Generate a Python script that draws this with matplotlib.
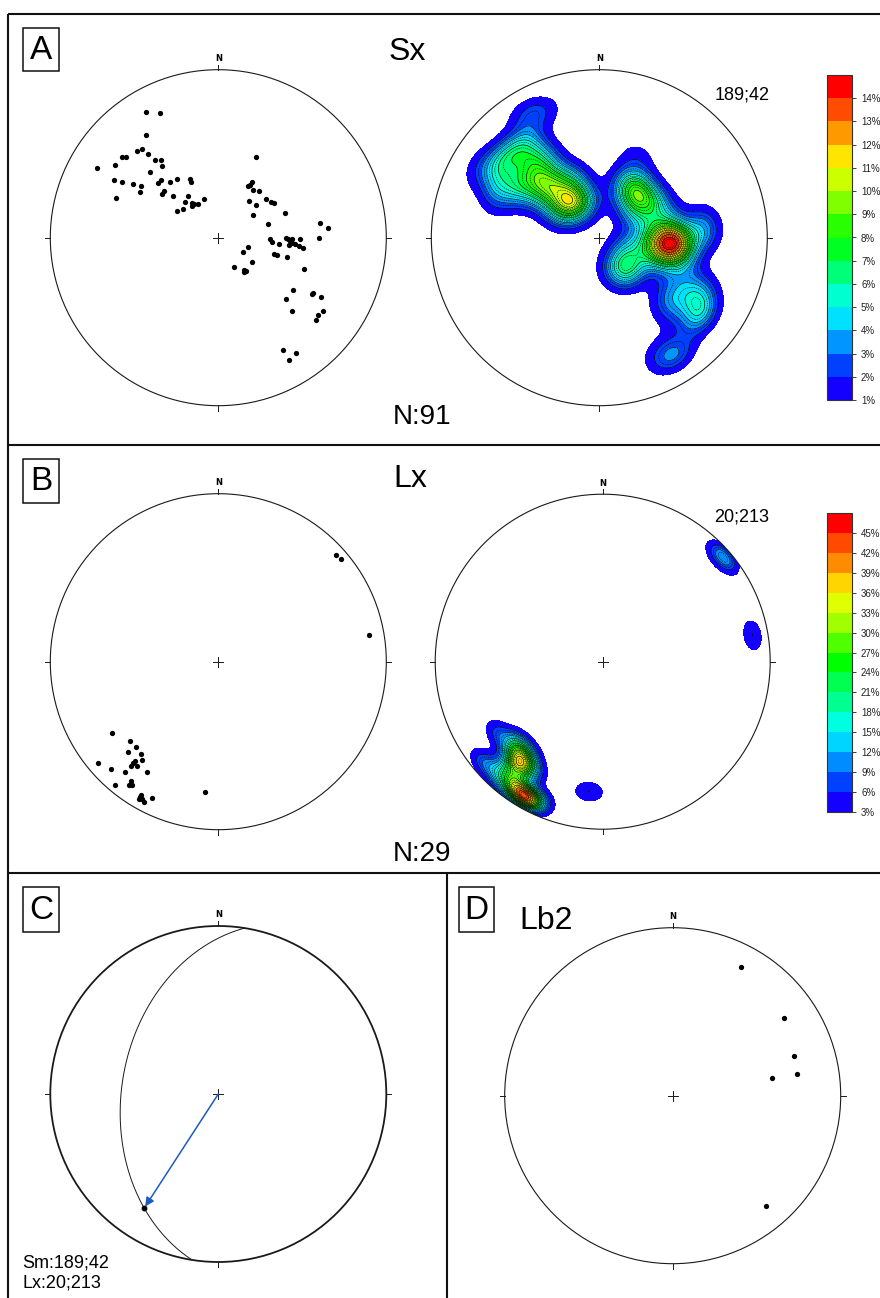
import numpy as np
import matplotlib
matplotlib.use('Agg')
import matplotlib.pyplot as plt
from matplotlib.patches import Circle, Rectangle

plt.rcParams['font.family'] = ['Liberation Sans', 'DejaVu Sans']

# ---------------- data (trend / plunge in degrees) ----------------
# Panel A: poles to Sx foliation (N = 91)
sx_trend = [330, 335, 325, 317, 319, 320, 310, 311, 321, 324, 300, 305, 322, 314, 299, 300,
            302, 304, 300, 312, 315, 319, 325, 334, 334, 311, 308, 313, 291, 324, 317, 323,
            320, 329, 339, 303, 309, 324,
            25, 31, 31, 30, 36, 41, 51, 56, 58, 40, 49, 56, 70, 75, 82, 85, 90, 91, 95, 96,
            91, 91, 91, 96, 96, 97, 107, 120, 106, 106, 106, 126, 151, 142, 141, 143, 110,
            125, 132, 121, 120, 120, 135, 125, 128, 130, 150, 146, 150,
            93, 95, 90, 94]
sx_plunge = [15, 19, 26, 30, 31, 35, 26, 28, 40, 42, 18, 26, 45, 43, 30, 34,
             40, 44, 45, 50, 50, 54, 55, 58, 60, 55, 55, 60, 35, 65, 66, 69,
             70, 71, 70, 66, 68, 70,
             46, 60, 58, 61, 61, 60, 60, 59, 58, 67, 66, 70, 55, 65, 39, 35, 40, 65, 64, 60,
             56, 54, 50, 55, 50, 48, 75, 76, 62, 60, 55, 70, 74, 70, 69, 69, 45,
             45, 45, 35, 35, 30, 38, 25, 26, 25, 24, 18, 17,
             55, 52, 57, 54]

# Panel B: Lx stretching lineation (N = 29)
lx_trend = [48, 50, 80, 236, 228, 224, 225, 220, 218, 220, 230, 220, 220, 218, 225, 213,
            220, 216, 216, 215, 220, 210, 210, 210, 209, 206, 210, 208, 186]
lx_plunge = [6, 5, 10, 25, 30, 30, 25, 29, 27, 24, 7, 22, 20, 22, 11, 23,
             15, 13, 10, 11, 5, 8, 9, 7, 7, 11, 6, 6, 23]

# Panel C: mean plane and mean lineation
sm_strike, sm_dip = 189, 42
lx_mean_plunge, lx_mean_trend = 20, 213

# Panel D: Lb2
lb2_trend = [28, 55, 72, 80, 80, 140]
lb2_plunge = [14, 20, 25, 26, 40, 15]

# contour levels (%)
levels_a = list(range(1, 16))
levels_b = list(range(3, 49, 3))
colors_a = ['#1400ff', '#0040ff', '#0095ff', '#00e1ff', '#00ffd0', '#00ff78', '#00ff22',
            '#2aff00', '#7fff00', '#ccff00', '#ffe500', '#ff9900', '#ff4c00', '#ff0000']
colors_b = ['#1400ff', '#0040ff', '#008cff', '#00d5ff', '#00ffe0', '#00ff90', '#00ff50',
            '#00ff00', '#50ff00', '#a0ff00', '#e0ff00', '#ffd500', '#ff8c00', '#ff4a00', '#ff0000']

# ---------------- helpers ----------------
W, H = 880, 1298
fig = plt.figure(figsize=(W / 100, H / 100), dpi=100)
bg = fig.add_axes([0, 0, 1, 1])
bg.set_xlim(0, W)
bg.set_ylim(H, 0)
bg.axis('off')


def proj(trend, plunge):
    t = np.radians(np.asarray(trend, float))
    p = np.radians(np.asarray(plunge, float))
    r = np.sqrt(2) * np.sin((np.pi / 2 - p) / 2)
    return r * np.sin(t), r * np.cos(t)


def net_axes(cx, cy, r, lw=0.8, pad=1.12):
    half = r * pad
    ax = fig.add_axes([(cx - half) / W, 1 - (cy + half) / H, 2 * half / W, 2 * half / H])
    ax.set_xlim(-pad, pad)
    ax.set_ylim(-pad, pad)
    ax.axis('off')
    circ = Circle((0, 0), 1, fill=False, lw=lw, ec='#1a1a1a', zorder=5)
    ax.add_patch(circ)
    kw = dict(color='#1a1a1a', lw=0.7, zorder=5)
    ax.plot([0, 0], [1, 1.03], **kw)
    ax.plot([0, 0], [-1, -1.03], **kw)
    ax.plot([1, 1.03], [0, 0], **kw)
    ax.plot([-1, -1.03], [0, 0], **kw)
    ax.plot([-0.03, 0.03], [0, 0], **kw)
    ax.plot([0, 0], [-0.03, 0.03], **kw)
    ax.text(0, 1.04, 'N', ha='center', va='bottom', fontsize=6, fontweight='bold',
            family=['DejaVu Sans'])
    return ax, circ


def density(trend, plunge, k, amp, n=301, ext=1.05):
    g = np.linspace(-ext, ext, n)
    X, Y = np.meshgrid(g, g)
    rho = np.clip(np.sqrt(X ** 2 + Y ** 2), 0, np.sqrt(2) - 1e-9)
    col = 2 * np.arcsin(rho / np.sqrt(2))
    pl = np.pi / 2 - col
    tr = np.arctan2(X, Y)
    gv = np.stack([np.cos(pl) * np.cos(tr), np.cos(pl) * np.sin(tr), np.sin(pl)], -1)
    t = np.radians(np.asarray(trend, float))
    p = np.radians(np.asarray(plunge, float))
    dv = np.stack([np.cos(p) * np.cos(t), np.cos(p) * np.sin(t), np.sin(p)], -1)
    dots = gv @ dv.T
    D = amp / len(trend) * np.exp(k * (dots - 1)).sum(-1)
    return X, Y, D


def contour_net(ax, circ, trend, plunge, k, amp, levels, colors):
    X, Y, D = density(trend, plunge, k, amp)
    Dc = np.clip(D, None, levels[-1] - 1e-6)
    cs = ax.contourf(X, Y, Dc, levels=levels, colors=colors, zorder=1)
    cs.set_clip_path(circ)
    step = levels[1] - levels[0]
    l1 = ax.contour(X, Y, D, levels=levels[1:-1], colors='k', linewidths=0.45, zorder=2)
    l1.set_clip_path(circ)
    mids = [v + step / 2 for v in levels[1:-1]]
    l2 = ax.contour(X, Y, D, levels=mids, colors='k', linewidths=0.4,
                    linestyles=[(0, (2.5, 1.5))], zorder=2)
    l2.set_clip_path(circ)
    return cs


def colorbar(cs, y0, y1, levels):
    cax = fig.add_axes([827 / W, 1 - y1 / H, 25 / W, (y1 - y0) / H])
    cb = fig.colorbar(cs, cax=cax, ticks=levels[:-1])
    cb.ax.set_yticklabels([f'{v}%' for v in levels[:-1]])
    cb.ax.tick_params(labelsize=7, length=3, width=0.6, colors='#222')
    cb.outline.set_linewidth(0.8)
    cb.outline.set_edgecolor('#333')
    return cb


def dots(ax, trend, plunge, ms=3.8):
    x, y = proj(trend, plunge)
    ax.plot(x, y, 'o', color='k', ms=ms, mec='none', zorder=6)


# ---------------- frame ----------------
lk = dict(color='#111', lw=1.5, solid_capstyle='butt')
bg.plot([8, W], [14, 14], **lk)
bg.plot([8, 8], [14, H], **lk)
bg.plot([8, W], [445, 445], **lk)
bg.plot([8, W], [873, 873], **lk)
bg.plot([447, 447], [873, H], **lk)

for lab, x0, y0, w, h in [('A', 23, 28, 36, 43), ('B', 23, 459, 36, 44),
                          ('C', 23, 887, 36, 45), ('D', 459, 887, 35, 45)]:
    bg.add_patch(Rectangle((x0, y0), w, h, fill=False, lw=1.1, ec='#111'))
    bg.text(x0 + w / 2, y0 + h / 2 + 1, lab, ha='center', va='center', fontsize=24)

# ---------------- Panel A ----------------
axA1, cA1 = net_axes(218.3, 237.7, 168)
dots(axA1, sx_trend, sx_plunge)
axA2, cA2 = net_axes(599.3, 237.7, 168)
csA = contour_net(axA2, cA2, sx_trend, sx_plunge, 78, 115, levels_a, colors_a)
colorbar(csA, 75, 400, levels_a)
bg.text(407, 52, 'Sx', ha='center', va='center', fontsize=23)
bg.text(393, 417, 'N:91', ha='left', va='center', fontsize=20)
bg.text(715, 95, '189;42', ha='left', va='center', fontsize=13)

# ---------------- Panel B ----------------
axB1, cB1 = net_axes(218.3, 661.7, 168)
dots(axB1, lx_trend, lx_plunge)
axB2, cB2 = net_axes(602.7, 661.7, 167.5)
csB = contour_net(axB2, cB2, lx_trend, lx_plunge, 160, 175, levels_b, colors_b)
colorbar(csB, 513, 812, levels_b)
bg.text(410, 479, 'Lx', ha='center', va='center', fontsize=23)
bg.text(393, 854, 'N:29', ha='left', va='center', fontsize=20)
bg.text(714, 517, '20;213', ha='left', va='center', fontsize=13)

# ---------------- Panel C ----------------
axC, cC = net_axes(218.3, 1094, 168, lw=1.3)
dd = np.radians(sm_strike + 90)
dip = np.radians(sm_dip)
st = np.radians(sm_strike)
s_vec = np.array([np.cos(st), np.sin(st), 0.0])
d_vec = np.array([np.cos(dip) * np.cos(dd), np.cos(dip) * np.sin(dd), np.sin(dip)])
phi = np.linspace(0, np.pi, 200)
vv = np.outer(np.cos(phi), s_vec) + np.outer(np.sin(phi), d_vec)
gc_pl = np.degrees(np.arcsin(np.clip(vv[:, 2], -1, 1)))
gc_tr = np.degrees(np.arctan2(vv[:, 1], vv[:, 0]))
gx, gy = proj(gc_tr, gc_pl)
axC.plot(gx, gy, color='#1a1a1a', lw=0.7, zorder=4)
lxx, lxy = proj(lx_mean_trend, lx_mean_plunge)
axC.annotate('', xy=(lxx, lxy), xytext=(0, 0),
             arrowprops=dict(arrowstyle='-|>', color='#1d5bbf', lw=1.1,
                             mutation_scale=13, shrinkA=0, shrinkB=1.5), zorder=5)
axC.plot([lxx], [lxy], 'o', color='k', ms=3.2, zorder=6)
bg.text(22, 1263, f'Sm:{sm_strike};{sm_dip}', ha='left', va='center', fontsize=13)
bg.text(22, 1283, f'Lx:{lx_mean_plunge};{lx_mean_trend}', ha='left', va='center', fontsize=13)

# ---------------- Panel D ----------------
axD, cD = net_axes(672.7, 1095.7, 168)
dots(axD, lb2_trend, lb2_plunge)
bg.text(519, 921, 'Lb2', ha='left', va='center', fontsize=23)

fig.savefig('out.png', dpi=100)
